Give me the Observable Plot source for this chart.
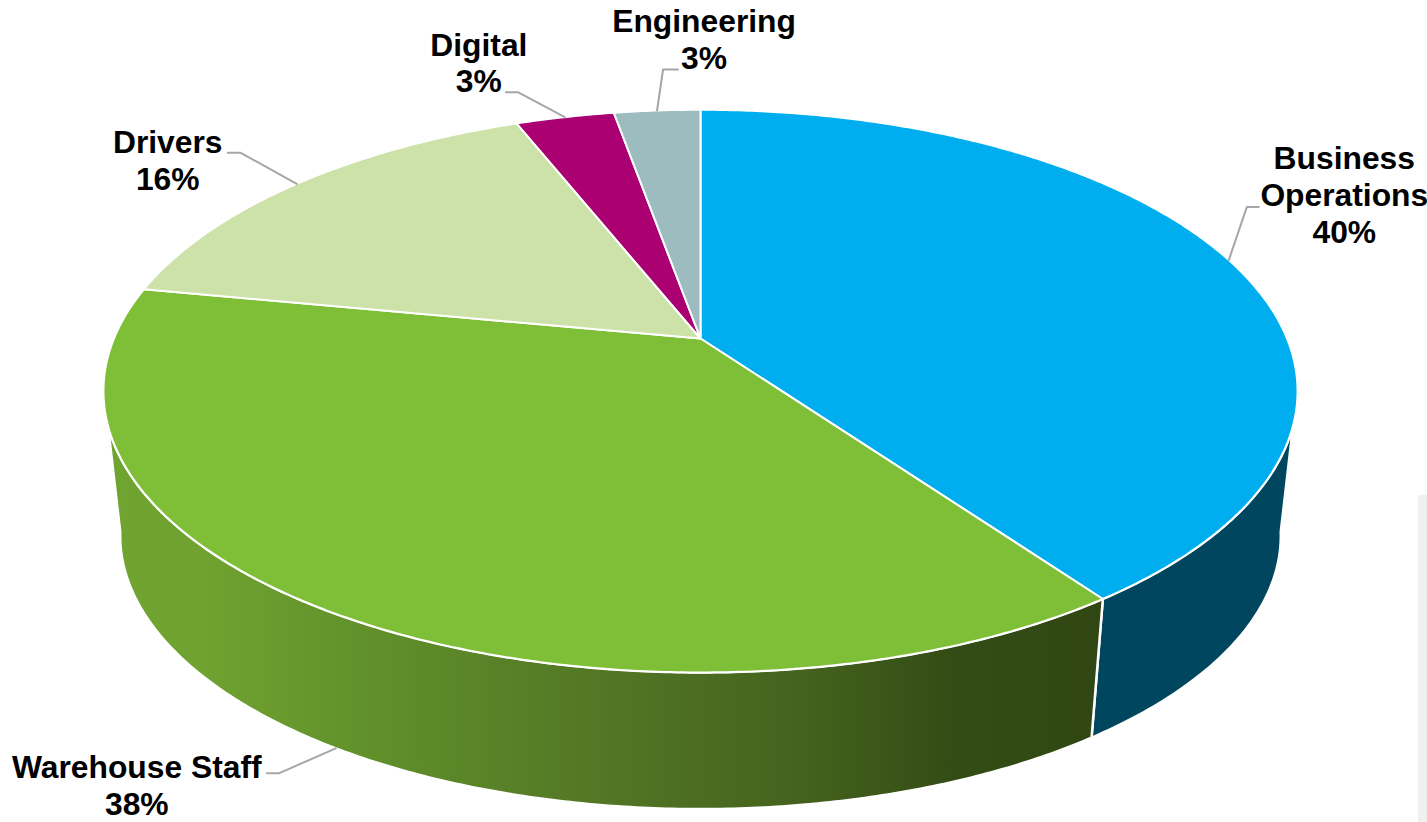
<!DOCTYPE html>
<html>
<head>
<meta charset="utf-8">
<script src="https://cdn.jsdelivr.net/npm/d3@7"></script>
<script src="https://cdn.jsdelivr.net/npm/@observablehq/plot@0.6"></script>
<style>
html,body{margin:0;padding:0;background:#fff;overflow:hidden;width:1427px;height:822px}
#band{position:absolute;left:1418px;top:495px;width:9px;height:327px;background:#f0f0f0}
#chart{position:absolute;left:0;top:0}
#chart svg{display:block;background:transparent}
</style>
</head>
<body>
<div id="band"></div>
<div id="chart"></div>
<script>
// Data
const names = ["Business Operations", "Warehouse Staff", "Drivers", "Digital", "Engineering"];
const shares = [40.12, 37.88, 16, 3.2, 2.8];
const labelLines = ["Business\nOperations", "Warehouse Staff", "Drivers", "Digital", "Engineering"];
const topColors = ["#00aeef", "#7fbf37", "#cce2a9", "#aa0072", "#9cbcbf"];
const sideFills = ["#00465f", "url(#warehouseSide)"];

// Label layout, in pixels relative to the slice's rim point
const elbowDX = [18, -57, -56, -47, 6];
const elbowDY = [-53, 25, -31, -25, -41];
const stubDX = [12, -12, -13, -12, 15];
const textDX = [115.5, -199, -129, -86, 47];
const textDY = [-65.5, 36, -24, -55, -72];

// Perspective of the pie: a unit circle projected on the page
const RX = 586.5, RY = 271.5, K = 0.187;
const DROP = 146, SHRINK = 0.972;
const project = (deg, r = 1, lower = false) => {
  const a = deg * Math.PI / 180;
  const u = r * Math.sin(a), v = -r * Math.cos(a);
  const w = 1 - K * v;
  const X = RX * u / w, Y = RY * v / w;
  return lower ? {x: X * SHRINK, y: Y * SHRINK + DROP} : {x: X, y: Y};
};

const total = d3.sum(shares);
let running = 0;
const slices = names.map((name, i) => {
  const start = running / total * 360;
  running += shares[i];
  const end = running / total * 360;
  return {name, i, start, end, mid: (start + end) / 2};
});
const arc = (a, b, lower = false) => {
  const n = Math.max(2, Math.ceil(Math.abs(b - a) * 2));
  return d3.range(n + 1).map(k => project(a + (b - a) * k / n, 1, lower));
};

// Top faces
const topPoints = slices.flatMap(s => {
  const apex = {x: 0, y: 0};
  return [apex, ...arc(s.start, s.end), apex].map(p => ({...p, name: s.name}));
});

// Side walls: only the two front slices show one, out to the pie's silhouette
const sideRanges = [[100, slices[0].end], [slices[1].start, 260]];
const sidePoints = sideRanges.map(([a, b]) => {
  const pts = [...arc(a, b), ...arc(b, a, true)];
  return [...pts, pts[0]];
});

// Rim anchor of each leader; the warehouse leader leaves from the lower rim
const anchors = slices.map(s => project(s.mid, 1, s.i === 1));
const leaders = slices.flatMap((s, i) => {
  const a = anchors[i];
  const e = {x: a.x + elbowDX[i], y: a.y + elbowDY[i]};
  const t = {x: e.x + stubDX[i], y: e.y};
  return [a, e, t].map(p => ({...p, name: s.name}));
});
const labels = slices.map((s, i) => ({
  text: labelLines[i] + "\n" + Math.round(shares[i]) + "%",
  x: anchors[i].x + textDX[i],
  y: anchors[i].y + textDY[i]
}));

const plot = Plot.plot({
  width: 1427, height: 822,
  margin: 0,
  x: {domain: [-700, 727], range: [0, 1427], axis: null},
  y: {domain: [-338, 484], range: [0, 822], axis: null},
  color: {type: "ordinal", domain: names, range: topColors},
  style: {background: "transparent"},
  marks: [
    () => {
      const ns = "http://www.w3.org/2000/svg";
      const defs = document.createElementNS(ns, "defs");
      const g = document.createElementNS(ns, "linearGradient");
      g.setAttribute("id", "warehouseSide");
      g.setAttribute("x1", "0"); g.setAttribute("x2", "1");
      g.setAttribute("y1", "0"); g.setAttribute("y2", "0");
      [[0, "#70a431"], [0.1, "#6fa230"], [0.25, "#62922b"], [0.5, "#527625"],
       [0.7, "#44621d"], [0.85, "#334c15"], [1, "#304713"]].forEach(([o, c]) => {
        const st = document.createElementNS(ns, "stop");
        st.setAttribute("offset", o); st.setAttribute("stop-color", c);
        g.appendChild(st);
      });
      defs.appendChild(g);
      return defs;
    },
    ...sidePoints.map((pts, i) => Plot.line(pts, {
      x: "x", y: "y", fill: sideFills[i], stroke: "white", strokeWidth: 2.5, curve: "linear"
    })),
    Plot.line(topPoints, {
      x: "x", y: "y", z: "name", fill: "name", stroke: "white", strokeWidth: 2, curve: "linear", strokeLinejoin: "round"
    }),
    Plot.line(leaders, {
      x: "x", y: "y", z: "name", stroke: "#a6a6a6", strokeWidth: 2, curve: "linear"
    }),
    Plot.text(labels, {
      x: "x", y: "y", text: "text", fill: "black",
      fontFamily: "Liberation Sans", fontWeight: "bold", fontSize: 31.8,
      lineHeight: 1.16, lineAnchor: "middle", textAnchor: "middle"
    })
  ]
});
document.getElementById("chart").appendChild(plot);
</script>
</body>
</html>
